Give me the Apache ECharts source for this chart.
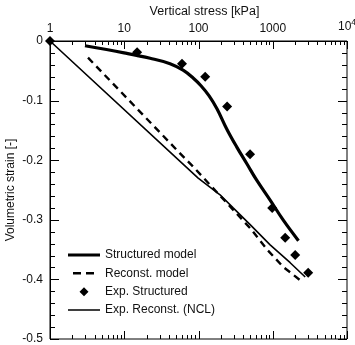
<!DOCTYPE html>
<html>
<head>
<meta charset="utf-8">
<script src="https://cdn.jsdelivr.net/npm/echarts@6/dist/echarts.min.js"></script>
<style>
html, body { margin: 0; padding: 0; background: #fff; }
#main { width: 355px; height: 345px; }
</style>
</head>
<body>
<div id="main"></div>
<script>
// tick values
var xMajorTicks = [1, 10, 100, 1000, 10000];
var xMinorSteps = [2, 3, 4, 5, 6, 7, 8, 9];
var yMajorTicks = [-0.5, -0.4, -0.3, -0.2, -0.1, 0];
var yMinorSteps = [0.02, 0.04, 0.06, 0.08];

// [stress kPa, volumetric strain]
var structuredModel = [
  [2.96, -0.008], [9.94, -0.020], [22.3, -0.029], [41.4, -0.038], [62, -0.049],
  [84.6, -0.062], [108, -0.075], [139, -0.092], [178, -0.114], [241, -0.148],
  [328, -0.178], [448, -0.206], [611, -0.234], [922, -0.267], [1394, -0.301],
  [2220, -0.335]
];
var reconstModel = [
  [3.25, -0.028], [53, -0.185], [85, -0.211], [496, -0.314], [841, -0.350],
  [1380, -0.379], [2490, -0.404]
];
var expStructured = [
  [1, 0], [14.9, -0.019], [60, -0.038], [123, -0.060], [243, -0.110],
  [495, -0.190], [982, -0.280], [1470, -0.330], [2005, -0.359], [3000, -0.389]
];
var expReconstNCL = [
  [1, 0], [99, -0.230], [195, -0.258], [293, -0.280], [496, -0.308],
  [922, -0.342], [1716, -0.372], [2735, -0.396]
];

// inward ticks: [x, y, length, side]
var ticks = [];
xMajorTicks.forEach(function (d, i) {
  ticks.push([d, 0, 8, 'top'], [d, -0.5, 8, 'bottom']);
  if (i < xMajorTicks.length - 1) {
    xMinorSteps.forEach(function (m) {
      ticks.push([d * m, 0, 4, 'top'], [d * m, -0.5, 4, 'bottom']);
    });
  }
});
yMajorTicks.forEach(function (v, i) {
  ticks.push([1, v, 9, 'left'], [10000, v, 9, 'right']);
  if (i < yMajorTicks.length - 1) {
    yMinorSteps.forEach(function (s) {
      var y = Math.round((v + s) * 100) / 100;
      ticks.push([1, y, 5, 'left'], [10000, y, 5, 'right']);
    });
  }
});

var font = 'Liberation Sans, Arial, sans-serif';
var txt = { fontSize: 12, color: '#111', fontFamily: font };

// legend icons, all boxed to 32x14 by tiny corner marks
var cornerMarks = 'M0,0H0.01V0.01H0Z M31.99,13.99H32V14H31.99Z ';
var iconThick = 'path://' + cornerMarks + 'M0,5.5H32V8.5H0Z';
var iconDash = 'path://' + cornerMarks + 'M5,5.75H13V8.25H5Z M18,5.75H26V8.25H18Z';
var iconDiamond = 'path://' + cornerMarks + 'M11.5,7L16,2.5L20.5,7L16,11.5Z';
var iconThin = 'path://' + cornerMarks + 'M0,6.25H32V7.75H0Z';

function legendAt(name, icon, top) {
  return {
    data: [{ name: name, icon: icon }], left: 68, top: top, padding: 0,
    itemWidth: 32, itemHeight: 14, symbolKeepAspect: true, textStyle: txt
  };
}

var chart = echarts.init(document.getElementById('main'));
var option = {
  animation: false,
  grid: { left: 50, right: 8, top: 41, bottom: 6, outerBoundsMode: 'none',
    show: true, borderColor: '#000', borderWidth: 1 },
  xAxis: {
    type: 'log', logBase: 10, min: 1, max: 10000, position: 'top',
    name: 'Vertical stress [kPa]', nameLocation: 'middle', nameGap: 23, nameMoveOverlap: false,
    nameTextStyle: { fontSize: 12.5, color: '#111', fontFamily: font, padding: [0, 0, 0, 12] },
    axisLine: { show: true, onZero: false, lineStyle: { color: '#000', width: 1 } },
    axisTick: { show: false },
    axisLabel: {
      customValues: xMajorTicks, margin: 6, fontSize: 12, color: '#111', fontFamily: font,
      formatter: function (v) { return v === 10000 ? '10{sup|4}' : String(v); },
      rich: { sup: { fontSize: 8.5, padding: [0, 0, 8, 0], fontFamily: font, color: '#111' } }
    },
    splitLine: { show: false }
  },
  yAxis: {
    type: 'value', min: -0.5, max: 0, interval: 0.1,
    name: 'Volumetric strain [-]', nameLocation: 'middle', nameGap: 33, nameMoveOverlap: false,
    nameTextStyle: txt,
    axisLine: { show: true, onZero: false, lineStyle: { color: '#000', width: 1 } },
    axisTick: { show: false },
    axisLabel: {
      margin: 7, fontSize: 12, color: '#111', fontFamily: font,
      formatter: function (v) { return v === 0 ? '0' : String(Math.round(v * 10) / 10); }
    },
    splitLine: { show: false }
  },
  legend: [
    legendAt('Structured model', iconThick, 248),
    legendAt('Reconst. model', iconDash, 266.3),
    legendAt('Exp. Structured', iconDiamond, 284.7),
    legendAt('Exp. Reconst. (NCL)', iconThin, 303)
  ],
  series: [
    { name: 'Exp. Reconst. (NCL)', type: 'line', data: expReconstNCL, symbol: 'none',
      lineStyle: { color: '#000', width: 1.6 }, itemStyle: { color: '#000' } },
    { name: 'Reconst. model', type: 'line', data: reconstModel, symbol: 'none',
      lineStyle: { color: '#000', width: 2.4, type: [7, 5] }, itemStyle: { color: '#000' } },
    { name: 'Structured model', type: 'line', data: structuredModel, symbol: 'none', smooth: 0.4,
      lineStyle: { color: '#000', width: 3.2 }, itemStyle: { color: '#000' } },
    { name: 'Exp. Structured', type: 'scatter', data: expStructured, symbol: 'diamond',
      symbolSize: 10, itemStyle: { color: '#000', opacity: 1 } }
  ]
};
chart.setOption(option);

// place tick marks through the chart's own coordinate conversion
var tickLines = ticks.map(function (t) {
  var p = chart.convertToPixel({ gridIndex: 0 }, [t[0], t[1]]);
  var x = Math.round(p[0]), y = Math.round(p[1]), len = t[2];
  var shape;
  if (t[3] === 'top') shape = { x1: x + 0.5, y1: y, x2: x + 0.5, y2: y + len };
  else if (t[3] === 'bottom') shape = { x1: x + 0.5, y1: y, x2: x + 0.5, y2: y - len };
  else if (t[3] === 'left') shape = { x1: x, y1: y + 0.5, x2: x + len, y2: y + 0.5 };
  else shape = { x1: x, y1: y + 0.5, x2: x - len, y2: y + 0.5 };
  return { type: 'line', shape: shape, silent: true, z: 100,
    style: { stroke: '#000', lineWidth: 1 } };
});
chart.setOption({ graphic: { elements: tickLines } });
</script>
</body>
</html>
